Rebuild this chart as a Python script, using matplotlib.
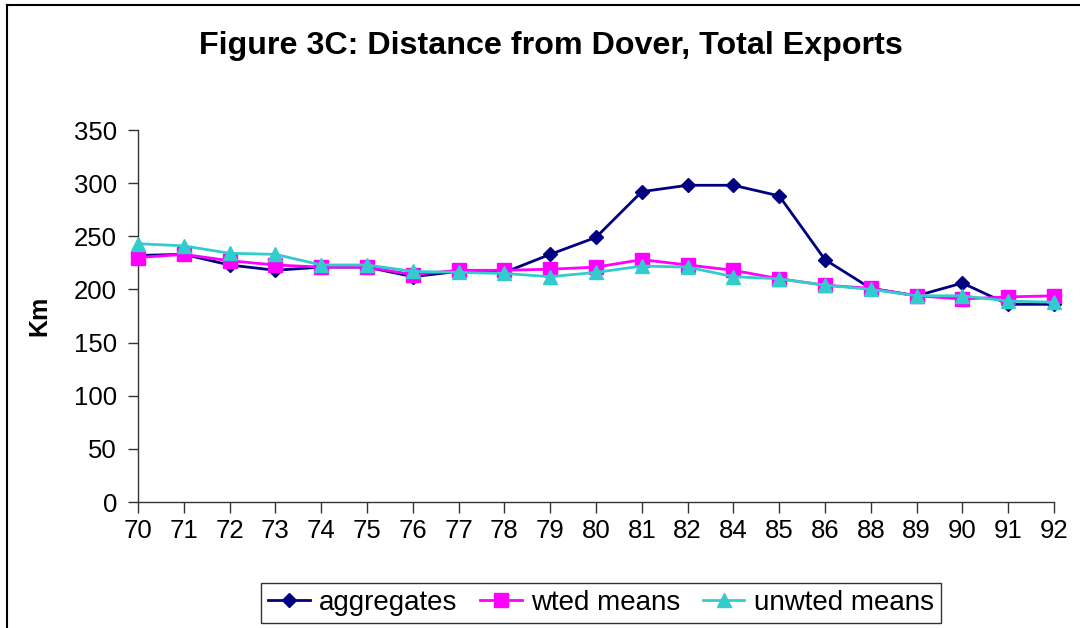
import matplotlib.pyplot as plt
from matplotlib.lines import Line2D

plt.rcParams['font.family'] = ['Liberation Sans', 'DejaVu Sans']

years = ['70', '71', '72', '73', '74', '75', '76', '77', '78', '79', '80',
         '81', '82', '84', '85', '86', '88', '89', '90', '91', '92']

aggregates = [232, 233, 223, 218, 221, 221, 212, 217, 216, 233, 249,
              292, 298, 298, 288, 228, 201, 194, 206, 186, 186]
wted_means = [230, 233, 227, 223, 221, 221, 214, 218, 218, 219, 221,
              228, 223, 218, 210, 204, 201, 194, 191, 193, 194]
unwted_means = [243, 241, 234, 233, 223, 223, 217, 216, 215, 212, 216,
                222, 221, 212, 210, 204, 200, 194, 194, 189, 188]

fig = plt.figure(figsize=(10.8, 6.28), dpi=100)
ax = fig.add_axes([138 / 1080, 1 - 502 / 628, (1054 - 138) / 1080, (502 - 130) / 628])

x = range(len(years))
ax.plot(x, aggregates, color='#000080', marker='D', markersize=7, lw=2,
        label='aggregates', clip_on=False, zorder=3)
ax.plot(x, wted_means, color='#FF00FF', marker='s', markersize=9.5, lw=2,
        label='wted means', clip_on=False, zorder=3)
ax.plot(x, unwted_means, color='#33CCCC', marker='^', markersize=10, lw=2,
        label='unwted means', clip_on=False, zorder=4)

ax.set_xlim(0, len(years) - 1)
ax.set_ylim(0, 350)
ax.set_yticks(range(0, 351, 50))
ax.set_xticks(list(x))
ax.set_xticklabels(years)
ax.tick_params(labelsize=18.5, length=7, width=1, color='#333333')
ax.tick_params(axis='x', pad=4, length=8)
ax.tick_params(axis='y', pad=8)
ax.spines['top'].set_visible(False)
ax.spines['right'].set_visible(False)
for s in ('left', 'bottom'):
    ax.spines[s].set_color('#333333')
    ax.spines[s].set_linewidth(1)

ax.set_ylabel('Km', fontsize=18, fontweight='bold', labelpad=16)

fig.text(551 / 1080, 1 - 46 / 628, 'Figure 3C: Distance from Dover, Total Exports',
         ha='center', va='center', fontsize=23.2, fontweight='bold')

leg = fig.legend(loc='center', bbox_to_anchor=(601 / 1080, 1 - 603 / 628), ncol=3,
                 fontsize=20, frameon=True, fancybox=False, edgecolor='black',
                 handlelength=1.5, columnspacing=0.8, handletextpad=0.35,
                 borderpad=0.25, borderaxespad=0)
leg.get_frame().set_linewidth(1)

# border of the chart area
fig.add_artist(Line2D([7 / 1080, 1], [1 - 5 / 628, 1 - 5 / 628], color='black', lw=1.5,
                      transform=fig.transFigure))
fig.add_artist(Line2D([7 / 1080, 7 / 1080], [0, 1 - 5 / 628], color='black', lw=1.5,
                      transform=fig.transFigure))

fig.savefig('out.png', dpi=100)
